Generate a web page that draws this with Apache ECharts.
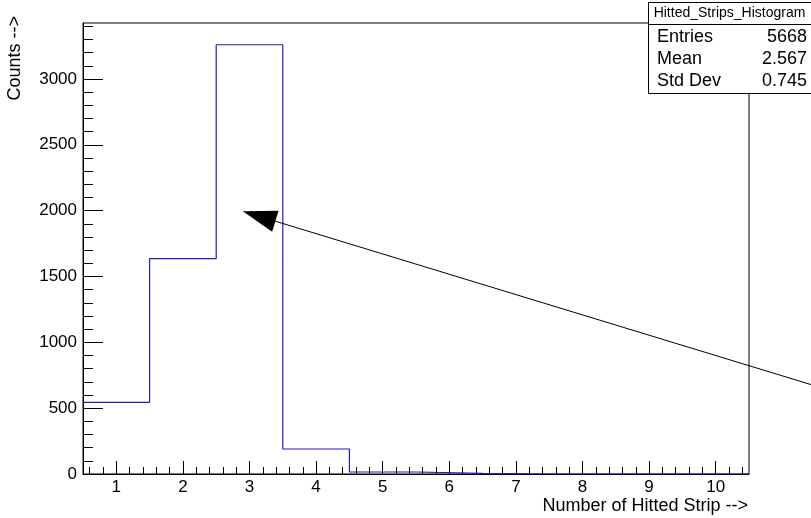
<!DOCTYPE html>
<html>
<head>
<meta charset="utf-8">
<script src="https://cdn.jsdelivr.net/npm/echarts@6/dist/echarts.min.js"></script>
<style>
  html, body { margin: 0; padding: 0; background: #fff; }
  #chart { width: 811px; height: 518px; }
</style>
</head>
<body>
<div id="chart"></div>
<script>
// Histogram of hitted strips: bin centres 1..10, unit width
const binLow = 0.5;
const binHigh = 10.5;
const counts = [544, 1636, 3260, 190, 15, 5, 0, 0, 0, 0];

// Axis tick positions
const xMajorTicks = [1, 2, 3, 4, 5, 6, 7, 8, 9, 10];
const xMinorTicks = [0.6, 0.8, 1.2, 1.4, 1.6, 1.8, 2.2, 2.4, 2.6, 2.8, 3.2, 3.4, 3.6, 3.8,
  4.2, 4.4, 4.6, 4.8, 5.2, 5.4, 5.6, 5.8, 6.2, 6.4, 6.6, 6.8, 7.2, 7.4, 7.6, 7.8,
  8.2, 8.4, 8.6, 8.8, 9.2, 9.4, 9.6, 9.8, 10.2, 10.4];
const yMajorTicks = [0, 500, 1000, 1500, 2000, 2500, 3000];
const yMinorTicks = [100, 200, 300, 400, 600, 700, 800, 900, 1100, 1200, 1300, 1400,
  1600, 1700, 1800, 1900, 2100, 2200, 2300, 2400, 2600, 2700, 2800, 2900, 3100, 3200, 3300, 3400];
const yMax = 3425;

// Statistics box
const statsTitle = 'Hitted_Strips_Histogram';
const statsLabels = ['Entries', 'Mean', 'Std Dev'];
const statsValues = ['5668', '2.567', '0.745'];

// Arrow annotation, in data coordinates (tail -> head)
const arrowTail = [11.45, 676];
const arrowHead = [2.9, 1995];

const FONT = '"Liberation Sans", Arial, Helvetica, sans-serif';

// Step outline points at bin edges
const edges = counts.map((c, i) => [binLow + i, c]);
edges.push([binHigh, counts[counts.length - 1]]);

const chart = echarts.init(document.getElementById('chart'), null, { renderer: 'canvas' });

const plain = v => String(v);

function xAxisDef(ticks, len, showLabel, showLine) {
  return {
    type: 'value', min: binLow, max: binHigh, position: 'bottom',
    axisLine: { show: showLine, onZero: false, lineStyle: { color: '#000', width: 1 } },
    axisTick: { show: true, inside: true, length: len, customValues: ticks, lineStyle: { color: '#000', width: 1 } },
    axisLabel: { show: showLabel, customValues: ticks, formatter: plain, margin: 5, color: '#000', fontFamily: FONT, fontSize: 17 },
    splitLine: { show: false }
  };
}
function yAxisDef(ticks, len, showLabel, showLine) {
  return {
    type: 'value', min: 0, max: yMax, position: 'left',
    axisLine: { show: showLine, onZero: false, lineStyle: { color: '#000', width: 1 } },
    axisTick: { show: true, inside: true, length: len, customValues: ticks, lineStyle: { color: '#000', width: 1 } },
    axisLabel: { show: showLabel, customValues: ticks, formatter: plain, margin: 6, color: '#000', fontFamily: FONT, fontSize: 17 },
    splitLine: { show: false }
  };
}

chart.setOption({
  animation: false,
  backgroundColor: '#fff',
  grid: { left: 83, right: 62, top: 23, bottom: 44, show: true, borderColor: '#000', borderWidth: 1, backgroundColor: 'transparent' },
  xAxis: [xAxisDef(xMajorTicks, 13, true, true), xAxisDef(xMinorTicks, 7, false, false)],
  yAxis: [yAxisDef(yMajorTicks, 20, true, true), yAxisDef(yMinorTicks, 10, false, false)],
  series: [{
    type: 'line',
    xAxisIndex: 0, yAxisIndex: 0,
    step: 'end',
    data: edges,
    symbol: 'none',
    lineStyle: { color: '#1f1fb4', width: 1.2 },
    z: 3
  }]
});

// Arrow, axis titles and stats box drawn as graphic elements
const p0 = chart.convertToPixel({ xAxisIndex: 0, yAxisIndex: 0 }, arrowTail);
const p1 = chart.convertToPixel({ xAxisIndex: 0, yAxisIndex: 0 }, arrowHead);
const ang = Math.atan2(p1[1] - p0[1], p1[0] - p0[0]);
const headLen = 34, headHalf = 11;
const bx = p1[0] - headLen * Math.cos(ang), by = p1[1] - headLen * Math.sin(ang);
const nx = -Math.sin(ang), ny = Math.cos(ang);

const boxLeft = 648, boxTop = 2, boxRight = 812, boxSep = 24, boxBottom = 93;
const rowY = [37, 59, 81];

const graphics = [
  { type: 'line', shape: { x1: p0[0], y1: p0[1], x2: bx, y2: by }, style: { stroke: '#000', lineWidth: 1 }, z: 10 },
  { type: 'polygon', shape: { points: [p1, [bx + nx * headHalf, by + ny * headHalf], [bx - nx * headHalf, by - ny * headHalf]] },
    style: { fill: '#000' }, z: 10 },
  { type: 'text', x: 748, y: 506, style: { text: 'Number of Hitted Strip -->', font: '18px ' + FONT, fill: '#000', align: 'right', verticalAlign: 'middle' }, z: 10 },
  { type: 'text', x: 15, y: 16, rotation: Math.PI / 2, style: { text: 'Counts -->', font: '18px ' + FONT, fill: '#000', align: 'right', verticalAlign: 'middle' }, z: 10 },
  { type: 'rect', shape: { x: boxLeft + 0.5, y: boxTop + 0.5, width: boxRight - boxLeft, height: boxBottom - boxTop }, style: { fill: '#fff', stroke: '#000', lineWidth: 1 }, z: 20 },
  { type: 'line', shape: { x1: boxLeft, y1: boxSep + 0.5, x2: boxRight, y2: boxSep + 0.5 }, style: { stroke: '#000', lineWidth: 1 }, z: 21 },
  { type: 'text', x: (boxLeft + 811) / 2, y: 13, style: { text: statsTitle, font: '14px ' + FONT, fill: '#000', align: 'center', verticalAlign: 'middle' }, z: 21 }
];
statsLabels.forEach((lab, i) => {
  graphics.push({ type: 'text', x: 657, y: rowY[i], style: { text: lab, font: '18px ' + FONT, fill: '#000', align: 'left', verticalAlign: 'middle' }, z: 21 });
  graphics.push({ type: 'text', x: 807, y: rowY[i], style: { text: statsValues[i], font: '18px ' + FONT, fill: '#000', align: 'right', verticalAlign: 'middle' }, z: 21 });
});
chart.setOption({ graphic: graphics });
</script>
</body>
</html>
